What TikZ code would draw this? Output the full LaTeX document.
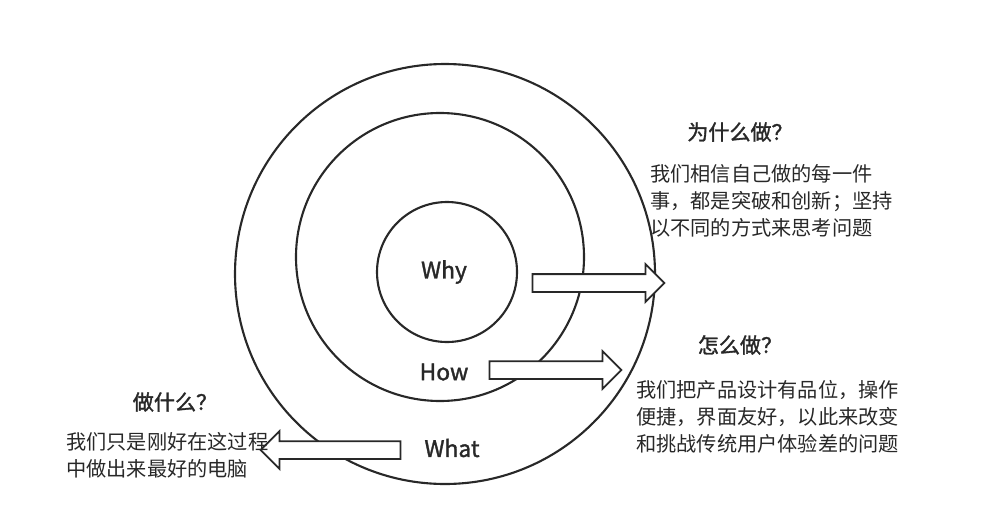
\documentclass[tikz,border=0pt]{standalone}
\usepackage{fontspec}
\setmainfont{Noto Sans CJK SC}[AutoFakeBold=1.5]
\usetikzlibrary{shapes.arrows}
\tikzset{>=latex}
\definecolor{ink}{RGB}{40,40,40}
\tikzset{
  ring/.style={draw=ink, line width=1.2pt},
  blockarrow/.style={single arrow, draw=ink, line width=1pt, fill=white,
    inner xsep=0pt, inner ysep=0.16cm, single arrow head extend=0.2cm,
    single arrow tip angle=90, minimum height=2.64cm},
  head/.style={font=\bfseries\fontsize{12}{14}\selectfont, text=ink},
  body/.style={font=\fontsize{11.5}{15.5}\selectfont, text=ink, align=left},
  layer/.style={font=\bfseries\fontsize{13}{15}\selectfont, text=ink}
}
\begin{document}
\begin{tikzpicture}[x=0.02cm, y=-0.02cm]
    \useasboundingbox (0,0) rectangle (1000,507);
    % circles
    \draw[ring] (445,274) circle (210);
    \draw[ring] (440,257) circle (144);
    \draw[ring] (447,272) circle (70);
    \node[layer] (why) at (444,272) {Why};
    \node[layer] (how) at (444,372) {How};
    \node[layer] (what) at (452,448) {What};
    % arrows
    \node[blockarrow] (awhy) at (594,283) {};
    \node[blockarrow] (ahow) at (551,370) {};
    \node[blockarrow, shape border rotate=180, minimum height=2.8cm] (awhat) at (335,450) {};
    % texts
    \node[head] (qwhy) at (740,132) {为什么做？};
    \node[body, anchor=north west] (twhy) at (644,158) {我们相信自己做的每一件\\事，都是突破和创新；坚持\\以不同的方式来思考问题};
    \node[head] (qhow) at (740,345) {怎么做？};
    \node[body, anchor=north west] (thow) at (630,374) {我们把产品设计有品位，操作\\便捷，界面友好，以此来改变\\和挑战传统用户体验差的问题};
    \node[head] (qwhat) at (175,402) {做什么？};
    \node[body, anchor=north west] (twhat) at (60,426) {我们只是刚好在这过程\\中做出来最好的电脑};
\end{tikzpicture}
\end{document}
